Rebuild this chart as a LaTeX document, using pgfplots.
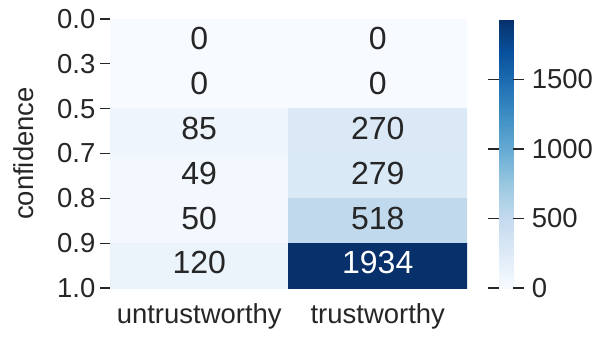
\documentclass[border=0pt]{standalone}
\usepackage{fontspec}
\setmainfont{Liberation Sans}
\usepackage{pgfplots}
\usepackage{pgfplotstable}
\pgfplotsset{compat=1.18}
\definecolor{txt}{HTML}{262626}

\pgfplotstableread{
x y c
0 0 0
1 0 0
0 1 0
1 1 0
0 2 85
1 2 270
0 3 49
1 3 279
0 4 50
1 4 518
0 5 120
1 5 1934
}\cells

\pgfplotstableread{
x y c
0 0 0
1 0 0
0 1 0
1 1 0
0 2 85
1 2 270
0 3 49
1 3 279
0 4 50
1 4 518
0 5 120
}\darklabels

\pgfplotstableread{
x y c
1 5 1934
}\lightlabels

\newcommand{\lblfont}{\fontsize{20.6}{24}\selectfont}
\newcommand{\cellfont}{\fontsize{24}{28}\selectfont}

\begin{document}
\begin{tikzpicture}[x=1pt,y=1pt]
\path[use as bounding box] (0,0) rectangle (448.5,-253.5);
\begin{axis}[
  at={(82.5pt,-216pt)}, anchor=south west,
  scale only axis, width=267.75pt, height=201.75pt,
  xmin=-0.5, xmax=1.5, ymin=-0.5, ymax=5.5, y dir=reverse,
  enlargelimits=false,
  axis line style={draw=none},
  xtick={0,1}, xticklabels={untrustworthy,trustworthy},
  ytick={-0.5,0.5,1.5,2.5,3.5,4.5,5.5},
  yticklabels={0.0,0.3,0.5,0.7,0.8,0.9,1.0},
  tick align=outside, ytick pos=left, xtick pos=bottom,
  major tick length=7.5pt,
  x tick style={draw=none},
  y tick style={txt, line width=0.9pt},
  every tick label/.append style={font=\lblfont, text=txt},
  xticklabel style={yshift=-1pt},
  yticklabel style={xshift=0pt},
  ylabel={confidence},
  ylabel style={font=\lblfont, text=txt, at={(axis description cs:-0.241,0.5)}, anchor=center},
  colormap={blues}{rgb255=(247,251,255) rgb255=(222,235,247) rgb255=(198,219,239) rgb255=(158,202,225) rgb255=(107,174,214) rgb255=(66,146,198) rgb255=(33,113,181) rgb255=(8,81,156) rgb255=(8,48,107)},
  point meta min=0, point meta max=1934,
  colorbar,
  colorbar style={
    at={(parent axis.north east)}, anchor=north west, xshift=15.75pt,
    scale only axis, width=10.5pt, height=201.75pt,
    ytick={0,500,1000,1500},
    scaled y ticks=false,
    axis line style={draw=none},
    tick align=outside,
    major tick length=8.25pt,
    y tick style={txt, line width=0.9pt},
    yticklabel style={font=\lblfont, text=txt, xshift=2pt, /pgf/number format/1000 sep={}, /pgf/number format/assume math mode=true},
  },
]
\addplot[matrix plot*, mesh/cols=2, point meta=explicit] table[meta=c] {\cells};
\addplot[only marks, mark=none, nodes near coords, point meta=explicit symbolic,
  nodes near coords align=center,
  every node near coord/.append style={font=\cellfont, text=txt, yshift=2pt}]
  table[meta=c] {\darklabels};
\addplot[only marks, mark=none, nodes near coords, point meta=explicit symbolic,
  nodes near coords align=center,
  every node near coord/.append style={font=\cellfont, text=white, yshift=2pt}]
  table[meta=c] {\lightlabels};
\end{axis}
\end{tikzpicture}
\end{document}
